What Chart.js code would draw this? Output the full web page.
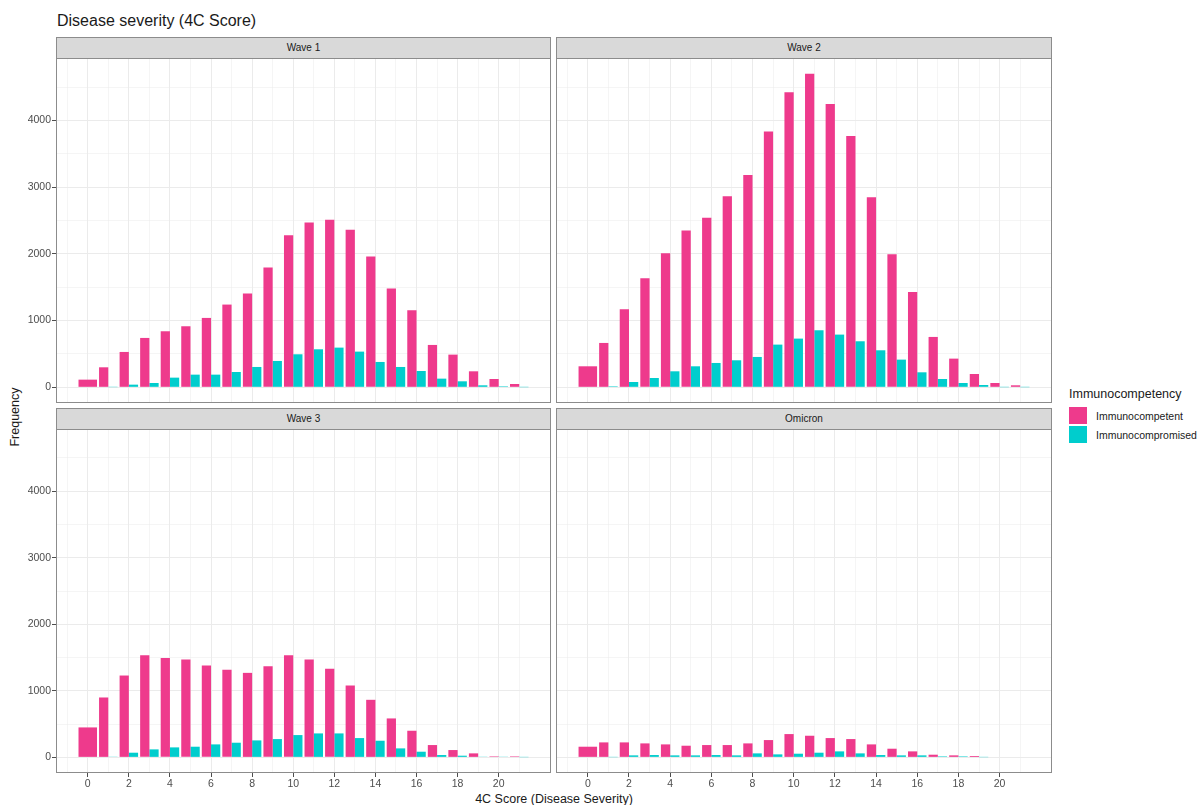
<!DOCTYPE html>
<html>
<head>
<meta charset="utf-8">
<script src="https://cdn.jsdelivr.net/npm/chart.js@4.4.1/dist/chart.umd.min.js"></script>
<style>
  body { margin: 0; background: #fff; width: 1200px; height: 805px; overflow: hidden; position: relative;
         font-family: "Liberation Sans", Arial, sans-serif; color: #1a1a1a; }
  .txt { position: absolute; white-space: nowrap; line-height: 1; }
  .strip { position: absolute; background: #d9d9d9; border: 1px solid #8c8c8c; box-sizing: border-box;
           font-size: 10px; color: #1a1a1a; text-align: center; line-height: 19px; }
  .frame { position: absolute; border: 1px solid #8c8c8c; box-sizing: border-box; pointer-events: none; }
  canvas { position: absolute; }
  .key { position: absolute; width: 18px; height: 17px; }
</style>
</head>
<body>
<div class="txt" style="left:57px;top:13px;font-size:16px;">Disease severity (4C Score)</div>
<div class="txt" style="left:15px;top:417px;font-size:12.5px;transform:translate(-50%,-50%) rotate(-90deg);">Frequency</div>
<div class="txt" style="left:554px;top:799px;font-size:12.5px;transform:translate(-50%,-50%);">4C Score (Disease Severity)</div>

<div class="txt" style="left:1069px;top:388px;font-size:12.5px;">Immunocompetency</div>
<div class="key" style="left:1069px;top:407px;background:#EE3A8C;"></div>
<div class="key" style="left:1069px;top:426px;background:#00CDCD;"></div>
<div class="txt" style="left:1096px;top:411px;font-size:10.5px;">Immunocompetent</div>
<div class="txt" style="left:1096px;top:430px;font-size:10.5px;">Immunocompromised</div>

<script>
// 4C score categories
const scores = [0, 1, 2, 3, 4, 5, 6, 7, 8, 9, 10, 11, 12, 13, 14, 15, 16, 17, 18, 19, 20, 21];

// frequencies per wave (null = no bar)
const wave1Competent   = [115, 300, 530, 740, 840, 915, 1040, 1240, 1405, 1795, 2280, 2470, 2510, 2360, 1960, 1480, 1155, 635, 490, 240, 125, 50];
const wave1Compromised = [null, 3, 40, 65, 145, 190, 190, 230, 305, 395, 495, 570, 595, 535, 380, 305, 245, 130, 90, 30, 15, 2];

const wave2Competent   = [315, 665, 1170, 1635, 2010, 2350, 2540, 2865, 3180, 3835, 4420, 4700, 4245, 3765, 2850, 1995, 1430, 755, 430, 200, 65, 30];
const wave2Compromised = [null, 15, 80, 140, 240, 315, 365, 405, 455, 640, 730, 855, 790, 690, 555, 415, 225, 125, 65, 35, 2, 2];

const wave3Competent   = [450, 900, 1230, 1535, 1495, 1470, 1380, 1315, 1270, 1370, 1535, 1470, 1330, 1080, 865, 585, 400, 185, 110, 60, 15, 15];
const wave3Compromised = [null, 10, 70, 120, 150, 160, 195, 220, 255, 275, 335, 360, 360, 290, 250, 135, 85, 35, 25, 10, 10, 3];

const omicronCompetent   = [160, 225, 225, 210, 195, 175, 185, 185, 210, 260, 350, 325, 290, 275, 195, 130, 90, 40, 30, 20, null, null];
const omicronCompromised = [null, 3, 30, 35, 30, 30, 35, 30, 60, 45, 55, 70, 90, 60, 35, 30, 30, 15, 15, 3, null, null];

const panelNames = ['Wave 1', 'Wave 2', 'Wave 3', 'Omicron'];
const seriesNames = ['Immunocompetent', 'Immunocompromised'];

// axis breaks
const xTickLabels = [0, 2, 4, 6, 8, 10, 12, 14, 16, 18, 20];
const xGrid = [-1, 0, 1, 2, 3, 4, 5, 6, 7, 8, 9, 10, 11, 12, 13, 14, 15, 16, 17, 18, 19, 20, 21];
const yTickLabels = [0, 1000, 2000, 3000, 4000];
const yGrid = [0, 500, 1000, 1500, 2000, 2500, 3000, 3500, 4000, 4500];

const PINK = '#EE3A8C', CYAN = '#00CDCD';
const plotLeft = [56, 556], plotRight = [551, 1052];
const plotTop = [58, 429], plotBottom = [403, 773];
const stripTop = [37, 408];

const panelData = [
  [wave1Competent, wave1Compromised],
  [wave2Competent, wave2Compromised],
  [wave3Competent, wave3Compromised],
  [omicronCompetent, omicronCompromised]
];

function toPoints(vals) {
  return scores.map((s, i) => ({ x: s, y: vals[i] }));
}

const tickFont = { family: '"Liberation Sans", Arial, sans-serif', size: 10.5 };

panelData.forEach((series, p) => {
  const col = p % 2, row = Math.floor(p / 2);
  const yw = col === 0 ? 50 : 0;
  const xh = row === 1 ? 30 : 0;
  const w = plotRight[col] - plotLeft[col], h = plotBottom[row] - plotTop[row];

  const strip = document.createElement('div');
  strip.className = 'strip';
  strip.style.cssText = `left:${plotLeft[col]}px;top:${stripTop[row]}px;width:${w}px;height:${plotTop[row] - stripTop[row] + 1}px;`;
  strip.textContent = panelNames[p];
  document.body.appendChild(strip);

  const cv = document.createElement('canvas');
  cv.width = w + yw; cv.height = h + xh;
  cv.style.left = (plotLeft[col] - yw) + 'px';
  cv.style.top = plotTop[row] + 'px';
  cv.style.width = cv.width + 'px'; cv.style.height = cv.height + 'px';
  document.body.appendChild(cv);

  const frame = document.createElement('div');
  frame.className = 'frame';
  frame.style.cssText = `left:${plotLeft[col]}px;top:${plotTop[row]}px;width:${w}px;height:${h}px;`;
  document.body.appendChild(frame);

  new Chart(cv, {
    type: 'bar',
    data: {
      datasets: [
        { label: seriesNames[0], data: toPoints(series[0]), backgroundColor: PINK, skipNull: true },
        { label: seriesNames[1], data: toPoints(series[1]), backgroundColor: CYAN, skipNull: true }
      ]
    },
    options: {
      responsive: false,
      animation: false,
      layout: { padding: 0 },
      datasets: { bar: { categoryPercentage: 0.9, barPercentage: 1 } },
      plugins: { legend: { display: false }, tooltip: { enabled: false } },
      scales: {
        x: {
          type: 'linear', min: -1.545, max: 22.545, offset: false,
          afterBuildTicks: s => { s.ticks = xGrid.map(v => ({ value: v })); },
          afterFit: s => { s.height = xh; s.paddingLeft = 0; s.paddingRight = 0; },
          ticks: {
            display: row === 1, autoSkip: false, maxRotation: 0, padding: 1,
            color: '#4d4d4d', font: tickFont,
            callback: v => xTickLabels.includes(v) ? String(v) : ''
          },
          grid: {
            offset: false,
            color: '#ebebeb',
            lineWidth: c => (c.tick && c.tick.value % 2 === 0) ? 1 : 0.5,
            drawTicks: row === 1, tickLength: 4, tickWidth: 1,
            tickColor: c => (c.tick && c.tick.value % 2 === 0) ? '#4d4d4d' : 'rgba(0,0,0,0)'
          },
          border: { display: false }
        },
        y: {
          min: -235, max: 4935,
          afterBuildTicks: s => { s.ticks = yGrid.map(v => ({ value: v })); },
          afterFit: s => { s.width = yw; s.paddingTop = 0; s.paddingBottom = 0; },
          ticks: {
            display: col === 0, padding: 1, color: '#4d4d4d', font: tickFont,
            callback: v => yTickLabels.includes(v) ? String(v) : ''
          },
          grid: {
            color: '#ebebeb',
            lineWidth: c => (c.tick && c.tick.value % 1000 === 0) ? 1 : 0.5,
            drawTicks: col === 0, tickLength: 4, tickWidth: 1,
            tickColor: c => (c.tick && c.tick.value % 1000 === 0) ? '#4d4d4d' : 'rgba(0,0,0,0)'
          },
          border: { display: false }
        }
      }
    }
  });
});
</script>
</body>
</html>
